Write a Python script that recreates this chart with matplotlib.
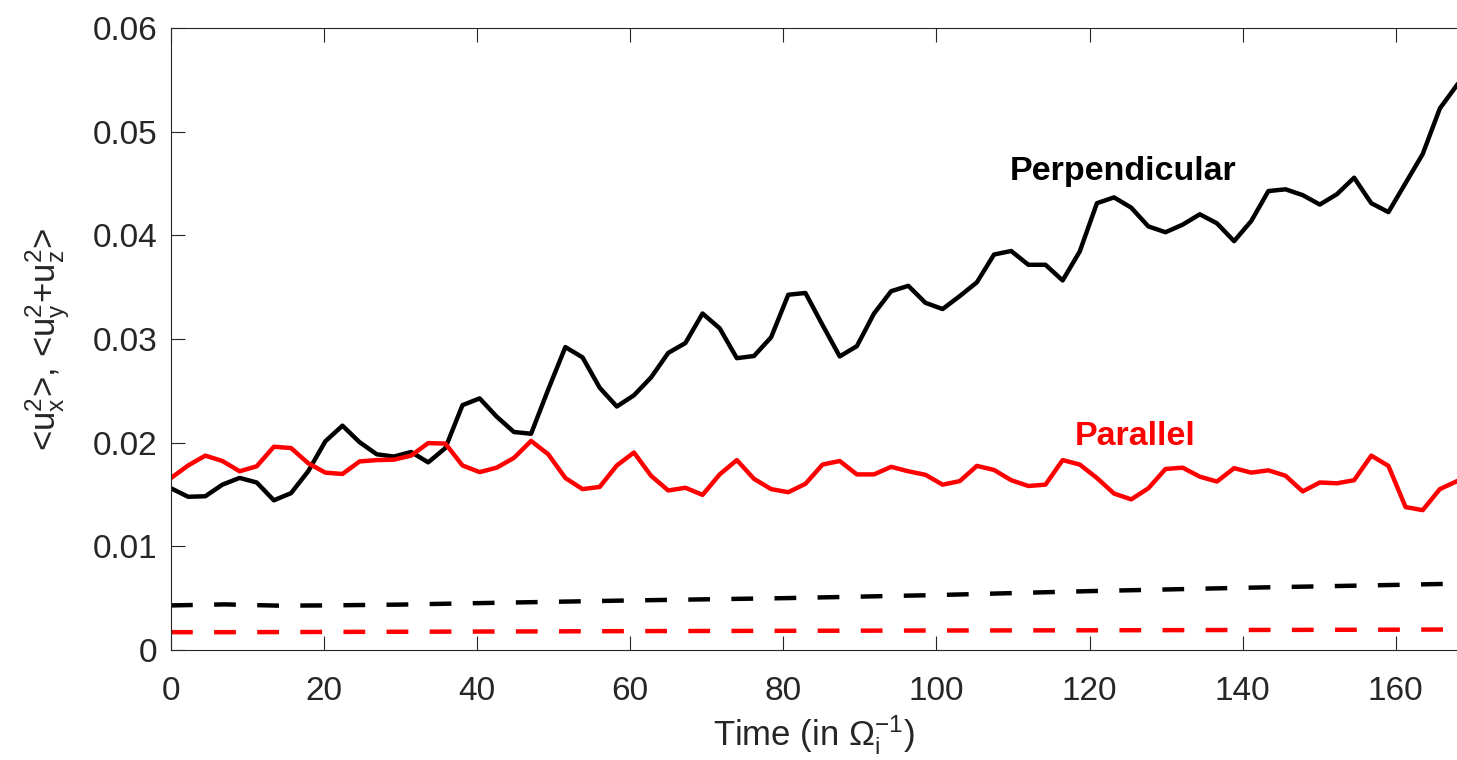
import matplotlib
matplotlib.use("Agg")
import matplotlib.pyplot as plt

plt.rcParams['font.family'] = ['Liberation Sans', 'DejaVu Sans']
plt.rcParams['mathtext.fontset'] = 'custom'
plt.rcParams['mathtext.rm'] = 'Liberation Sans'
plt.rcParams['mathtext.it'] = 'Liberation Sans'
plt.rcParams['mathtext.bf'] = 'Liberation Sans:bold'
plt.rcParams['mathtext.default'] = 'regular'

time = [0.0, 2.24, 4.48, 6.72, 8.96, 11.2, 13.44, 15.68, 17.92, 20.16,
        22.4, 24.64, 26.88, 29.12, 31.36, 33.6, 35.84, 38.08, 40.32, 42.56,
        44.8, 47.04, 49.28, 51.52, 53.76, 56.0, 58.24, 60.48, 62.72, 64.96,
        67.2, 69.44, 71.68, 73.92, 76.16, 78.4, 80.64, 82.88, 85.12, 87.36,
        89.6, 91.84, 94.08, 96.32, 98.56, 100.8, 103.04, 105.28, 107.52, 109.76,
        112.0, 114.24, 116.48, 118.72, 120.96, 123.2, 125.44, 127.68, 129.92, 132.16,
        134.4, 136.64, 138.88, 141.12, 143.36, 145.6, 147.84, 150.08, 152.32, 154.56,
        156.8, 159.04, 161.28, 163.52, 165.76, 168.0]

perpendicular = [0.0156, 0.01478, 0.01483, 0.01595, 0.0166, 0.01616, 0.01444, 0.01513, 0.01724, 0.02013,
                 0.02164, 0.02004, 0.01888, 0.01866, 0.0191, 0.0181, 0.01948, 0.02362, 0.02427, 0.0225,
                 0.02103, 0.02086, 0.02513, 0.02922, 0.02823, 0.0253, 0.02349, 0.02457, 0.0263, 0.02866,
                 0.02961, 0.03246, 0.03103, 0.02815, 0.02836, 0.03017, 0.03427, 0.03444, 0.03134, 0.02832,
                 0.02931, 0.03246, 0.03461, 0.03513, 0.03349, 0.03289, 0.03414, 0.03547, 0.03815, 0.03849,
                 0.03716, 0.03716, 0.03565, 0.03845, 0.0431, 0.04366, 0.04267, 0.04086, 0.0403, 0.04103,
                 0.04203, 0.04116, 0.03944, 0.04138, 0.04427, 0.04444, 0.04388, 0.04297, 0.04397, 0.04556,
                 0.0431, 0.04224, 0.04504, 0.04784, 0.05224, 0.0545]

parallel = [0.01659, 0.0178, 0.01875, 0.01823, 0.01724, 0.01772, 0.01961, 0.01948, 0.01802, 0.01711,
            0.01698, 0.01819, 0.01832, 0.01836, 0.01875, 0.01996, 0.01991, 0.0178, 0.01716, 0.01759,
            0.01853, 0.02017, 0.01888, 0.01659, 0.01552, 0.01573, 0.0178, 0.01905, 0.0168, 0.01539,
            0.01565, 0.01496, 0.01694, 0.01832, 0.01651, 0.01552, 0.01522, 0.01603, 0.01789, 0.01823,
            0.01694, 0.01694, 0.01767, 0.01724, 0.0169, 0.01595, 0.01629, 0.01776, 0.01737, 0.01638,
            0.01582, 0.01595, 0.01832, 0.01789, 0.01659, 0.01509, 0.01453, 0.0156, 0.01746, 0.01759,
            0.01672, 0.01625, 0.01754, 0.01711, 0.01733, 0.01681, 0.0153, 0.01616, 0.01608, 0.01638,
            0.01875, 0.01776, 0.01379, 0.01349, 0.01552, 0.01629]

ref_time = [0, 7, 14, 20, 30, 40, 50, 60, 80, 100, 120, 140, 160, 168]
perp_ref = [0.0043, 0.0044, 0.00428, 0.0043, 0.00438, 0.00452, 0.00465, 0.00478, 0.005, 0.0053, 0.00568, 0.006, 0.00628, 0.0064]
par_ref = [0.00172, 0.00172, 0.00173, 0.00174, 0.00176, 0.00178, 0.0018, 0.00182, 0.00185, 0.00188, 0.0019, 0.00193, 0.00196, 0.00198]

xticks = [0, 20, 40, 60, 80, 100, 120, 140, 160]
yticks = [0, 0.01, 0.02, 0.03, 0.04, 0.05, 0.06]
ytick_labels = ['0', '0.01', '0.02', '0.03', '0.04', '0.05', '0.06']

fig = plt.figure(figsize=(14.57, 7.6), dpi=100)
ax = fig.add_axes([171/1457, 1 - 650/760, 1 - 171/1457, (650 - 28)/760])

lw = 3.2
ax.plot(time, perpendicular, color='black', lw=lw)
ax.plot(time, parallel, color='#ff0000', lw=lw)
l1, = ax.plot(ref_time, perp_ref, color='black', lw=lw)
l2, = ax.plot(ref_time, par_ref, color='#ff0000', lw=lw)
for l in (l1, l2):
    l.set_dashes([4.9, 4.8])

ax.set_xlim(0, 168)
ax.set_ylim(0, 0.06)
ax.set_xticks(xticks)
ax.set_yticks(yticks)
ax.set_yticklabels(ytick_labels)

axcol = '#262626'
for s in ['left', 'bottom', 'top']:
    ax.spines[s].set_color(axcol)
    ax.spines[s].set_linewidth(0.8)
ax.spines['right'].set_visible(False)
ax.tick_params(axis='both', direction='in', length=10, width=0.8, colors=axcol,
               labelsize=24, top=True, right=False)
ax.tick_params(axis='y', pad=10)
ax.tick_params(axis='x', pad=19)

ax.set_xlabel(r'Time (in $Ω_{i}^{-1}$)', fontsize=25, color=axcol, labelpad=4)
ax.set_ylabel(r'<u$_x^2$>, <u$_y^2$+u$_z^2$>', fontsize=25, color=axcol, labelpad=14)

ax.text(109.6, 0.0453, 'Perpendicular', fontsize=24.5, fontweight='bold', color='black',
        va='baseline', ha='left')
ax.text(118.1, 0.0198, 'Parallel', fontsize=24.5, fontweight='bold', color='#ff0000',
        va='baseline', ha='left')

fig.savefig('out.png', dpi=100)
